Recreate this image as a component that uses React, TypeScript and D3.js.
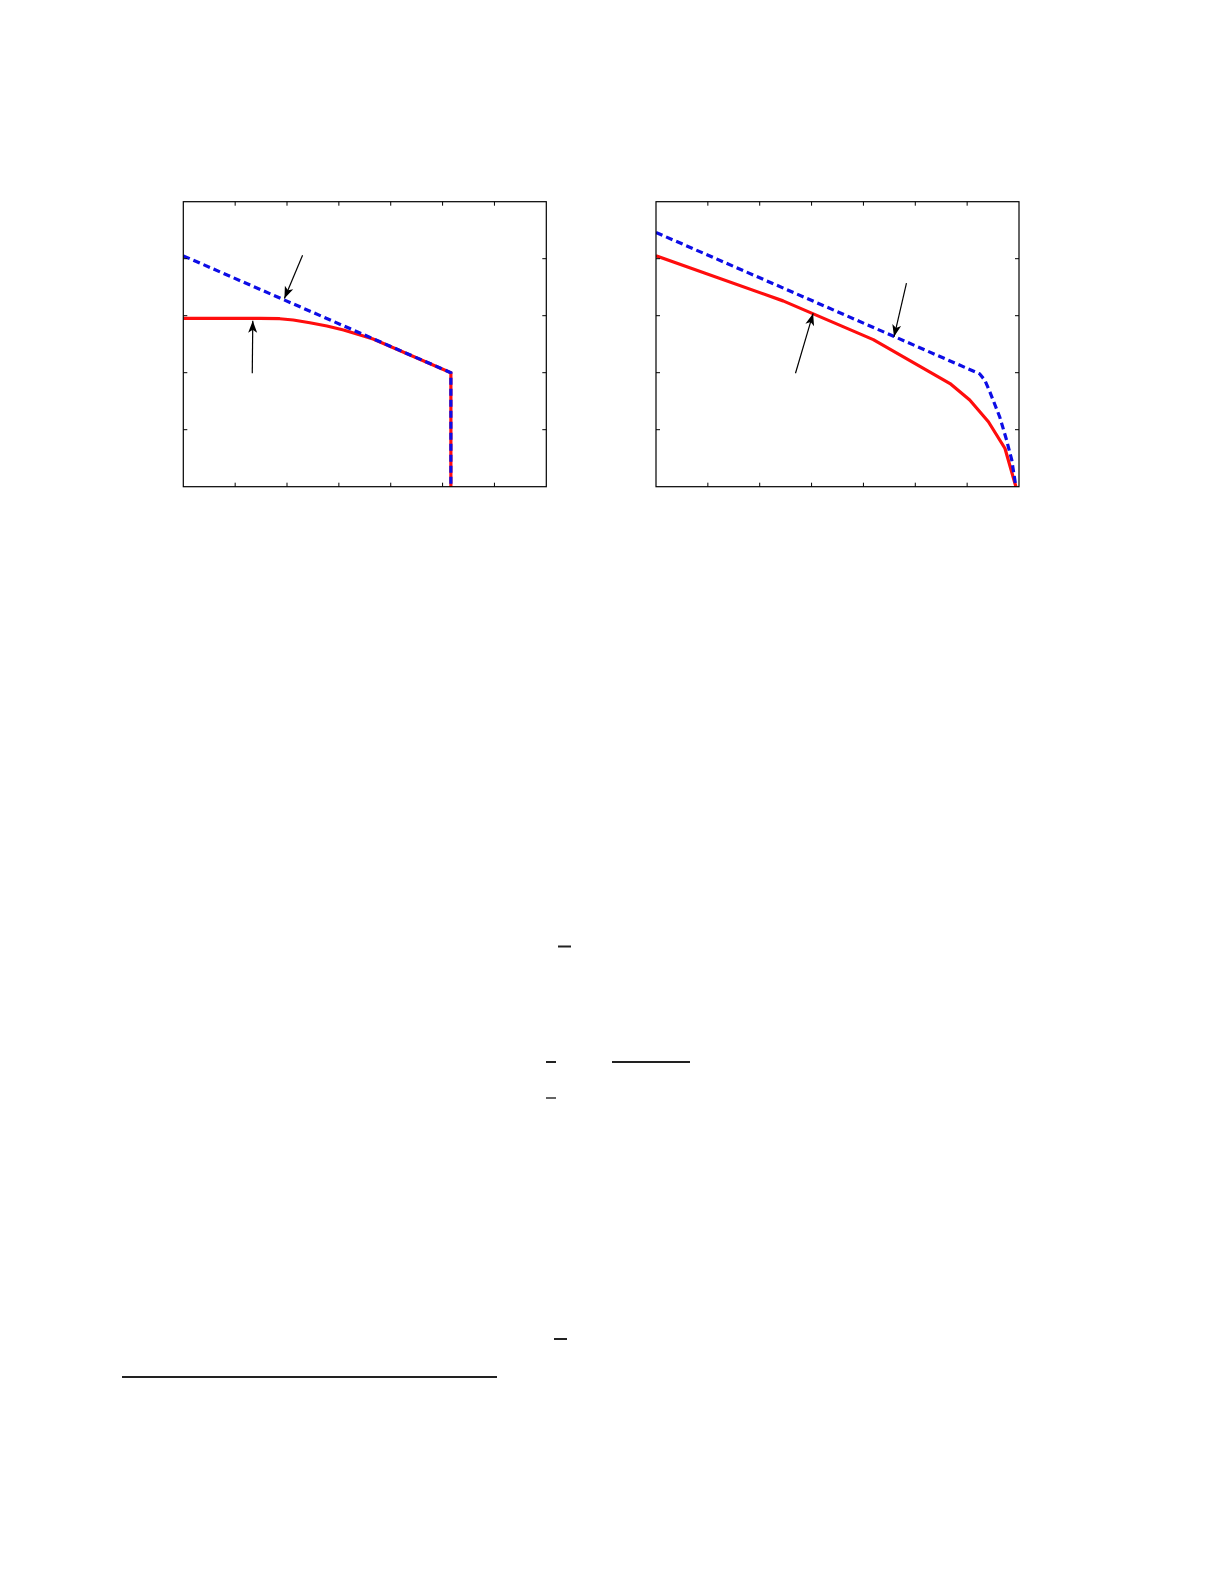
import * as React from 'react';
import * as d3 from 'd3';

// left panel
const leftDashedX = [0, 5.16, 5.16];
const leftDashedY = [4.05, 2.0, 0];
const leftSolidX = [0, 1.48, 1.86, 2.12, 2.44, 2.77, 3.09, 3.41, 3.66, 5.16, 5.16];
const leftSolidY = [2.954, 2.954, 2.947, 2.925, 2.877, 2.819, 2.749, 2.66, 2.59, 2.0, 0];
const leftArrows = [
    { from: [2.3, 4.06], to: [1.95, 3.3] },
    { from: [1.33, 1.99], to: [1.34, 2.91] },
];

// right panel
const rightDashedX = [0, 4.58, 6.24, 6.34, 6.44, 6.63, 6.76, 6.86, 6.94];
const rightDashedY = [4.46, 2.64, 1.98, 1.87, 1.66, 1.22, 0.82, 0.47, 0];
const rightSolidX = [0, 2.45, 4.19, 5.67, 6.05, 6.41, 6.73, 6.94];
const rightSolidY = [4.05, 3.26, 2.58, 1.81, 1.52, 1.14, 0.67, 0];
const rightArrows = [
    { from: [4.83, 3.57], to: [4.59, 2.63] },
    { from: [2.69, 1.99], to: [3.03, 3.04] },
];

const xTicks = [1, 2, 3, 4, 5, 6];
const yTicks = [1, 2, 3, 4];

// stray rules of the page (overbars, footnote separator)
const rules = [
    { x1: 558, x2: 571, y: 946.5, w: 2 },
    { x1: 546, x2: 556, y: 1062, w: 2 },
    { x1: 612, x2: 690, y: 1062, w: 2 },
    { x1: 546, x2: 556, y: 1098, w: 1.4 },
    { x1: 554, x2: 567, y: 1339, w: 2 },
    { x1: 122, x2: 497, y: 1377, w: 2 },
];

const RED = '#ff0d0d';
const BLUE = '#0d0de6';

interface PanelProps {
    left: number;
    top: number;
    dashedX: number[];
    dashedY: number[];
    solidX: number[];
    solidY: number[];
    arrows: { from: number[]; to: number[] }[];
}

function arrowHead(tx: number, ty: number, fx: number, fy: number) {
    const ang = Math.atan2(ty - fy, tx - fx);
    const len = 12, half = 4.5, back = 9;
    const c = Math.cos(ang), s = Math.sin(ang);
    const p = (a: number, b: number) => [tx - a * c - b * s, ty - a * s + b * c];
    const p1 = p(len, half), p2 = p(back, 0), p3 = p(len, -half);
    return 'M' + tx + ',' + ty + 'L' + p1.join(',') + 'L' + p2.join(',') + 'L' + p3.join(',') + 'Z';
}

function Panel(props: PanelProps) {
    const w = 363, h = 285;
    const x = d3.scaleLinear().domain([0, 7]).range([props.left, props.left + w]);
    const y = d3.scaleLinear().domain([0, 5]).range([props.top + h, props.top]);
    const line = d3.line<number>().x(d => x(props.dashedX[d])).y(d => y(props.dashedY[d]));
    const solid = d3.line<number>().x(d => x(props.solidX[d])).y(d => y(props.solidY[d]));
    const tk = 4;

    return (
        <g>
            <defs>
                <clipPath id={'clip' + props.left}>
                    <rect x={props.left} y={props.top} width={w} height={h} />
                </clipPath>
            </defs>
            <g clipPath={'url(#clip' + props.left + ')'}>
                <path d={solid(d3.range(props.solidX.length)) || ''} fill="none" stroke={RED} strokeWidth={3.2} strokeLinejoin="round" />
                <path d={line(d3.range(props.dashedX.length)) || ''} fill="none" stroke={BLUE} strokeWidth={3.2} strokeDasharray="7,4" />
            </g>
            <rect x={props.left} y={props.top} width={w} height={h} fill="none" stroke="#000" strokeWidth={1.2} />
            {xTicks.map(t => (
                <g key={'x' + t}>
                    <line x1={x(t)} x2={x(t)} y1={props.top} y2={props.top + tk} stroke="#000" />
                    <line x1={x(t)} x2={x(t)} y1={props.top + h} y2={props.top + h - tk} stroke="#000" />
                </g>
            ))}
            {yTicks.map(t => (
                <g key={'y' + t}>
                    <line y1={y(t)} y2={y(t)} x1={props.left} x2={props.left + tk} stroke="#000" />
                    <line y1={y(t)} y2={y(t)} x1={props.left + w} x2={props.left + w - tk} stroke="#000" />
                </g>
            ))}
            {props.arrows.map((a, i) => {
                const fx = x(a.from[0]), fy = y(a.from[1]);
                const tx = x(a.to[0]), ty = y(a.to[1]);
                return (
                    <g key={i}>
                        <line x1={fx} y1={fy} x2={tx} y2={ty} stroke="#000" strokeWidth={1.2} />
                        <path d={arrowHead(tx, ty, fx, fy)} fill="#000" />
                    </g>
                );
            })}
        </g>
    );
}

export default function App() {
    return (
        <svg width={1225} height={1585} style={{ position: 'absolute', left: 0, top: 0, background: '#fff' }}>
            <rect width={1225} height={1585} fill="#fff" />
            <Panel left={183.3} top={201.7} dashedX={leftDashedX} dashedY={leftDashedY}
                solidX={leftSolidX} solidY={leftSolidY} arrows={leftArrows} />
            <Panel left={656} top={201.7} dashedX={rightDashedX} dashedY={rightDashedY}
                solidX={rightSolidX} solidY={rightSolidY} arrows={rightArrows} />
            {rules.map((r, i) => (
                <line key={i} x1={r.x1} x2={r.x2} y1={r.y} y2={r.y} stroke="#222" strokeWidth={r.w} />
            ))}
        </svg>
    );
}
